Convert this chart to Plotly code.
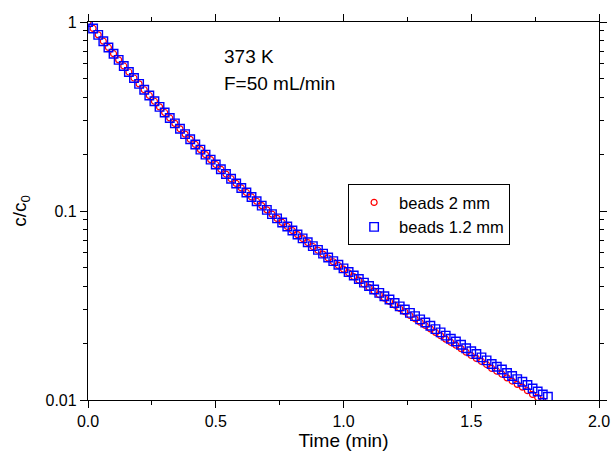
import plotly.graph_objects as go

# Time (min)
time_min = [0.00, 0.02, 0.04, 0.06, 0.08, 0.10, 0.12, 0.14, 0.16, 0.18,
            0.20, 0.22, 0.24, 0.26, 0.28, 0.30, 0.32, 0.34, 0.36, 0.38,
            0.40, 0.42, 0.44, 0.46, 0.48, 0.50, 0.52, 0.54, 0.56, 0.58,
            0.60, 0.62, 0.64, 0.66, 0.68, 0.70, 0.72, 0.74, 0.76, 0.78,
            0.80, 0.82, 0.84, 0.86, 0.88, 0.90, 0.92, 0.94, 0.96, 0.98,
            1.00, 1.02, 1.04, 1.06, 1.08, 1.10, 1.12, 1.14, 1.16, 1.18,
            1.20, 1.22, 1.24, 1.26, 1.28, 1.30, 1.32, 1.34, 1.36, 1.38,
            1.40, 1.42, 1.44, 1.46, 1.48, 1.50, 1.52, 1.54, 1.56, 1.58,
            1.60, 1.62, 1.64, 1.66, 1.68, 1.70, 1.72, 1.74, 1.76, 1.78,
            1.80]

# c/c0, beads 1.2 mm
beads_12mm = [1.0000, 0.9244, 0.8551, 0.7916, 0.7332, 0.6797, 0.6305, 0.5853, 0.5438, 0.5056,
              0.4704, 0.4381, 0.4083, 0.3808, 0.3555, 0.3321, 0.3106, 0.2907, 0.2722, 0.2552,
              0.2395, 0.2249, 0.2113, 0.1987, 0.1871, 0.1762, 0.1662, 0.1569, 0.1481, 0.1399,
              0.1324, 0.1253, 0.1187, 0.1126, 0.1068, 0.1014, 0.0963, 0.0914, 0.0870, 0.0828,
              0.0788, 0.0751, 0.0716, 0.0683, 0.0652, 0.0623, 0.0595, 0.0568, 0.0543, 0.0520,
              0.0497, 0.0476, 0.0456, 0.0437, 0.0418, 0.0401, 0.0384, 0.0369, 0.0354, 0.0340,
              0.0326, 0.0313, 0.0301, 0.0289, 0.0278, 0.0267, 0.0257, 0.0247, 0.0237, 0.0228,
              0.0219, 0.0211, 0.0204, 0.0196, 0.0188, 0.0181, 0.0175, 0.0168, 0.0162, 0.0155,
              0.0150, 0.0145, 0.0139, 0.0134, 0.0129, 0.0125, 0.0120, 0.0115, 0.0111, 0.0107,
              0.0104]

# c/c0, beads 2 mm
beads_2mm = [1.0000, 0.9244, 0.8551, 0.7916, 0.7332, 0.6797, 0.6305, 0.5853, 0.5438, 0.5056,
             0.4704, 0.4381, 0.4083, 0.3808, 0.3555, 0.3321, 0.3106, 0.2907, 0.2722, 0.2552,
             0.2395, 0.2249, 0.2113, 0.1987, 0.1871, 0.1762, 0.1662, 0.1569, 0.1481, 0.1399,
             0.1324, 0.1253, 0.1187, 0.1126, 0.1068, 0.1014, 0.0963, 0.0914, 0.0870, 0.0828,
             0.0788, 0.0750, 0.0715, 0.0681, 0.0649, 0.0620, 0.0591, 0.0564, 0.0539, 0.0515,
             0.0492, 0.0471, 0.0450, 0.0431, 0.0411, 0.0394, 0.0377, 0.0361, 0.0346, 0.0332,
             0.0318, 0.0305, 0.0293, 0.0280, 0.0269, 0.0258, 0.0248, 0.0238, 0.0228, 0.0219,
             0.0210, 0.0202, 0.0195, 0.0187, 0.0179, 0.0172, 0.0166, 0.0160, 0.0154, 0.0147,
             0.0142, 0.0137, 0.0131, 0.0126, 0.0121, 0.0117, 0.0112, 0.0107, 0.0103, 0.0099]

x_ticks = [0.0, 0.5, 1.0, 1.5, 2.0]
x_ticktext = ["0.0", "0.5", "1.0", "1.5", "2.0"]
y_ticks = [0.01, 0.1, 1]
y_ticktext = ["0.01", "0.1", "1"]

FONT = "Liberation Sans, Arial, sans-serif"

fig = go.Figure()
fig.add_trace(go.Scatter(
    x=time_min[:len(beads_2mm)], y=beads_2mm, mode="markers", name="beads 2 mm",
    marker=dict(symbol="circle-open", size=6, color="#ff0000", line=dict(width=1.2, color="#ff0000")),
))
fig.add_trace(go.Scatter(
    x=time_min, y=beads_12mm, mode="markers", name="beads 1.2 mm",
    marker=dict(symbol="square-open", size=8.5, color="#0000ff", line=dict(width=1.4, color="#0000ff")),
))

axis_common = dict(
    showline=True, linecolor="black", linewidth=1.3, mirror="allticks",
    ticks="outside", tickcolor="black", tickwidth=1.2, ticklen=7,
    showgrid=False, zeroline=False, automargin=False,
    tickfont=dict(family=FONT, size=16, color="black"),
)

fig.update_xaxes(
    range=[0, 2], tickvals=x_ticks, ticktext=x_ticktext,
    title=dict(text="Time (min)", font=dict(family=FONT, size=19, color="black"), standoff=4),
    minor=dict(ticks="outside", ticklen=4, tickwidth=1.2, tickcolor="black", dtick=0.25, showgrid=False),
    **axis_common,
)
fig.update_yaxes(
    type="log", range=[-2, 0], tickvals=y_ticks, ticktext=y_ticktext,
    title=dict(text="c/c<sub>0</sub>", font=dict(family=FONT, size=19, color="black"), standoff=13),
    minor=dict(ticks="outside", ticklen=4, tickwidth=1.2, tickcolor="black", dtick="D1", showgrid=False),
    **axis_common,
)

fig.add_annotation(x=0.524, y=-0.185, xref="x", yref="y", text="373 K", showarrow=False,
                   xanchor="left", yanchor="middle", font=dict(family=FONT, size=19, color="black"))
fig.add_annotation(x=0.524, y=-0.325, xref="x", yref="y", text="F=50 mL/min", showarrow=False,
                   xanchor="left", yanchor="middle", font=dict(family=FONT, size=19, color="black"))

fig.update_layout(
    width=612, height=455,
    margin=dict(l=88, r=13, t=22, b=55),
    paper_bgcolor="white", plot_bgcolor="white",
    showlegend=True,
    legend=dict(
        x=0.509, y=0.571, xanchor="left", yanchor="top",
        bgcolor="white", bordercolor="black", borderwidth=1,
        font=dict(family=FONT, size=16.5, color="black"),
        itemwidth=40, tracegroupgap=0,
    ),
)

fig.write_html("out.html")
